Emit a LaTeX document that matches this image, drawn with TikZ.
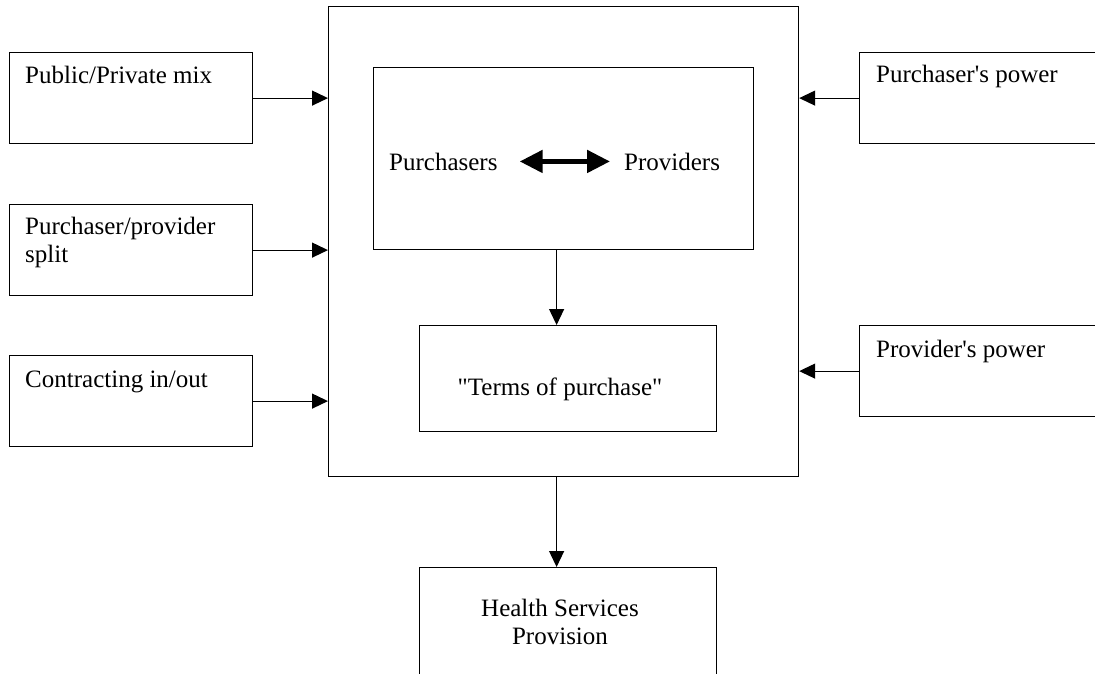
\documentclass[tikz,border=0pt]{standalone}
\usepackage{fontspec}
\setmainfont{Liberation Serif}
\usepackage{tikz}
\usetikzlibrary{arrows.meta, positioning, calc}

\begin{document}
\begin{tikzpicture}[
  x=1pt, y=-1pt,
  box/.style={rectangle, draw=black, line width=1.2pt, anchor=north west,
              inner sep=0pt},
  sidebox/.style={box, minimum width=243pt, minimum height=91pt},
  lbl/.style={inner sep=0pt, anchor=base west, align=left,
              font=\fontsize{25}{28}\selectfont},
  arr/.style={-{Triangle[length=16pt, width=15pt]}, line width=1.2pt},
  dbl/.style={{Triangle[length=23pt, width=22pt]}-{Triangle[length=23pt, width=22pt]},
              line width=5pt},
]
\useasboundingbox (0,0) rectangle (1095,673);
\clip (0,0) rectangle (1095,673);

% central frame
\node[box, minimum width=470pt, minimum height=470pt] (frame) at (328,6) {};
\node[box, minimum width=380pt, minimum height=182pt] (market) at (373,67) {};
\node[box, minimum width=297pt, minimum height=106pt] (terms) at (419,325) {};
\node[box, minimum width=297pt, minimum height=130pt] (health) at (419,567) {};

\node[lbl] (purch) at (389,170) {Purchasers};
\node[lbl] (prov) at (624,170) {Providers};
\node[lbl, anchor=base] (termstxt) at ([shift={(141,70)}]terms.north west)
  {\textquotedbl Terms of purchase\textquotedbl};
\node[lbl, anchor=base, align=center] (healthtxt) at ([shift={(141,77)}]health.north west)
  {Health Services\\Provision};

% left side
\node[sidebox] (pp) at (9,52) {};
\node[sidebox] (ps) at (9,204) {};
\node[sidebox] (ci) at (9,355) {};
\node[lbl] at ([shift={(16,31)}]pp.north west) {Public/Private mix};
\node[lbl] at ([shift={(16,58)}]ps.north west) {Purchaser/provider\\split};
\node[lbl] at ([shift={(16,32)}]ci.north west) {Contracting in/out};

% right side
\node[sidebox, minimum width=260pt] (pw) at (859,52) {};
\node[sidebox, minimum width=260pt] (vw) at (859,325) {};
\node[lbl] at ([shift={(17,30)}]pw.north west) {Purchaser\textquotesingle s power};
\node[lbl] at ([shift={(17,32)}]vw.north west) {Provider\textquotesingle s power};

\draw[dbl, shorten <=22pt, shorten >=14pt] (purch.east) -- (prov.west);
\draw[arr] (pp.east) -- (pp.east -| frame.west);
\draw[arr] (ps.east) -- (ps.east -| frame.west);
\draw[arr] (ci.east) -- (ci.east -| frame.west);
\draw[arr] (pw.west) -- (pw.west -| frame.east);
\draw[arr] (vw.west) -- (vw.west -| frame.east);
\draw[arr] ([xshift=-7pt]market.south) -- ([xshift=-7pt]market.south |- terms.north);
\draw[arr] ([xshift=-7pt]frame.south) -- ([xshift=-7pt]frame.south |- health.north);

\end{tikzpicture}
\end{document}
